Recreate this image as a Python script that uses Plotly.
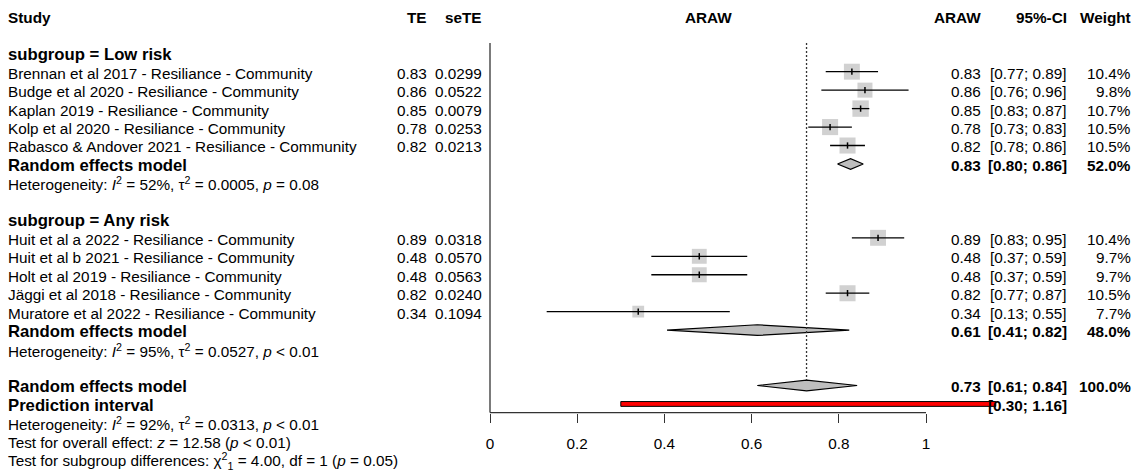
import plotly.graph_objects as go

# ---------------- data ----------------
low_labels = ["Brennan et al 2017 - Resiliance - Community",
              "Budge et al 2020 - Resiliance - Community",
              "Kaplan 2019 - Resiliance - Community",
              "Kolp et al 2020 - Resiliance - Community",
              "Rabasco & Andover 2021 - Resiliance - Community"]
low_te = [0.83, 0.86, 0.85, 0.78, 0.82]
low_sete = [0.0299, 0.0522, 0.0079, 0.0253, 0.0213]
low_lo = [0.77, 0.76, 0.83, 0.73, 0.78]
low_hi = [0.89, 0.96, 0.87, 0.83, 0.86]
low_w = [10.4, 9.8, 10.7, 10.5, 10.5]

any_labels = ["Huit et al a 2022 - Resiliance - Community",
              "Huit et al b 2021 - Resiliance - Community",
              "Holt et al 2019 - Resiliance - Community",
              "Jäggi et al 2018 - Resiliance - Community",
              "Muratore et al 2022 - Resiliance - Community"]
any_te = [0.89, 0.48, 0.48, 0.82, 0.34]
any_sete = [0.0318, 0.0570, 0.0563, 0.0240, 0.1094]
any_lo = [0.83, 0.37, 0.37, 0.77, 0.13]
any_hi = [0.95, 0.59, 0.59, 0.87, 0.55]
any_w = [10.4, 9.7, 9.7, 10.5, 7.7]

sub_names = ["Low risk", "Any risk"]
sub_te = [0.827, 0.613]
sub_lo = [0.797, 0.406]
sub_hi = [0.856, 0.824]
sub_w = [52.0, 48.0]
sub_i2 = [52, 95]
sub_tau2 = ["0.0005", "0.0527"]
sub_p = ["= 0.08", "< 0.01"]

overall_te = 0.726
overall_lo = 0.613
overall_hi = 0.842
pi_lo = 0.30
pi_hi = 1.16
overall_i2 = 92
overall_tau2 = "0.0313"
overall_p = "< 0.01"
overall_z = "12.58"
overall_zp = "< 0.01"
sub_chi2 = "4.00"
sub_df = 1
sub_chi_p = "= 0.05"

tick_vals = [0, 0.2, 0.4, 0.6, 0.8, 1]
tick_text = ["0", "0.2", "0.4", "0.6", "0.8", "1"]

# ---------------- layout geometry ----------------
W, H = 1137, 473
X0PX, X1PX = 490.0, 926.0          # pixel of value 0 and value 1
PXU = X1PX - X0PX
AXIS_PX = 412.7                    # pixel row of the x axis line
ROW0_PX = 16.3                     # pixel of row 0
DY = 18.46                         # pixels per row
FONT = "Liberation Sans, Arial, sans-serif"
FS = 15.3
FSH = 15.3
FSB = 16.7
GRAY = "#BEBEBE"


def ypap(r):
    return 1 - (ROW0_PX + r * DY) / H


def xpap(px):
    return px / W


fig = go.Figure()

# rows
low_rows = [3, 4, 5, 6, 7]
any_rows = [12, 13, 14, 15, 16]
sub_rows = [8, 17]
sub_label_rows = [2, 11]
het_rows = [9, 18]
ROW_OVERALL, ROW_PI = 20, 21

all_te = low_te + any_te
all_lo = low_lo + any_lo
all_hi = low_hi + any_hi
all_w = low_w + any_w
all_rows = low_rows + any_rows

sq_sizes = [1.53 * w for w in all_w]

# squares
fig.add_trace(go.Scatter(x=all_te, y=all_rows, mode="markers",
                         marker=dict(symbol="square", size=sq_sizes, color=GRAY,
                                     line=dict(width=0)),
                         hoverinfo="skip"))

# CI lines and estimate ticks
TICK_H = 0.17
for col in ["black", "white"]:
    xs, ys, tx, ty = [], [], [], []
    for te, lo, hi, r, s in zip(all_te, all_lo, all_hi, all_rows, sq_sizes):
        inside = (hi - lo) * PXU < s
        c = "white" if inside else "black"
        if c != col:
            continue
        xs += [lo, hi, None]
        ys += [r, r, None]
        tx += [te, te, None]
        ty += [r - TICK_H, r + TICK_H, None]
    if xs:
        fig.add_trace(go.Scatter(x=xs, y=ys, mode="lines",
                                 line=dict(color=col, width=1.3), hoverinfo="skip"))
        fig.add_trace(go.Scatter(x=tx, y=ty, mode="lines",
                                 line=dict(color=col, width=1.5), hoverinfo="skip"))

# diamonds
DH = 0.29
dx, dy = [], []
for te, lo, hi, r in zip(sub_te + [overall_te], sub_lo + [overall_lo],
                         sub_hi + [overall_hi], sub_rows + [ROW_OVERALL]):
    dx += [lo, te, hi, te, lo, None]
    dy += [r, r - DH, r, r + DH, r, None]
fig.add_trace(go.Scatter(x=dx, y=dy, mode="lines", fill="toself", fillcolor=GRAY,
                         line=dict(color="black", width=1.2), hoverinfo="skip"))

# prediction interval bar
PH = 0.13
fig.add_trace(go.Scatter(x=[pi_lo, pi_hi, pi_hi, pi_lo, pi_lo],
                         y=[ROW_PI - PH, ROW_PI - PH, ROW_PI + PH, ROW_PI + PH, ROW_PI - PH],
                         mode="lines", fill="toself", fillcolor="red",
                         line=dict(color="black", width=1), hoverinfo="skip"))

y_axis_row = (AXIS_PX - ROW0_PX) / DY
y_top_row = -ROW0_PX / DY
LINE_TOP = 1.45

# reference (overall) dotted line
fig.add_trace(go.Scatter(x=[overall_te, overall_te], y=[LINE_TOP, ROW_OVERALL - DH],
                         mode="lines", line=dict(color="#333", width=1.3, dash="2px,2px"),
                         hoverinfo="skip"))
# left vertical line at 0
fig.add_trace(go.Scatter(x=[0, 0], y=[LINE_TOP, y_axis_row], mode="lines",
                         line=dict(color="#333", width=1.3), hoverinfo="skip"))

ydom0 = (H - AXIS_PX) / H
fig.add_shape(type="line", xref="x", yref="paper", x0=0, x1=1, y0=ydom0, y1=ydom0,
              line=dict(color="#333", width=1.3))

# ---------------- text ----------------
TOFF = 0.08


def txt(px, row, s, anchor="left", bold=False, size=FS):
    if bold:
        s = "<b>" + s + "</b>"
    fig.add_annotation(x=xpap(px), y=ypap(row + TOFF), xref="paper", yref="paper",
                       text=s, showarrow=False, xanchor=anchor, yanchor="middle",
                       font=dict(family=FONT, size=size, color="black"))


LX, TEX, SEX, ESX, CIX, WX = 6, 429, 484, 983, 1069, 1133

# header
txt(LX, 0, "Study", "left", True, FSH)
txt(TEX, 0, "TE", "right", True, FSH)
txt(SEX, 0, "seTE", "right", True, FSH)
txt((X0PX + X1PX) / 2, 0, "ARAW", "center", True, FSH)
txt(ESX, 0, "ARAW", "right", True, FSH)
txt(CIX, 0, "95%-CI", "right", True, FSH)
txt(WX, 0, "Weight", "right", True, FSH)


def fmt_ci(lo, hi):
    return "[%.2f; %.2f]" % (lo, hi)


groups = [(low_labels, low_te, low_sete, low_lo, low_hi, low_w, low_rows),
          (any_labels, any_te, any_sete, any_lo, any_hi, any_w, any_rows)]
for g, (labs, tes, ses, los, his, ws, rows) in enumerate(groups):
    txt(LX, sub_label_rows[g], "subgroup = " + sub_names[g], bold=True, size=FSB)
    for lab, te, se, lo, hi, w, r in zip(labs, tes, ses, los, his, ws, rows):
        txt(LX, r, lab)
        txt(TEX, r, "%.2f" % te, "right")
        txt(SEX, r, "%.4f" % se, "right")
        txt(ESX, r, "%.2f" % te, "right")
        txt(CIX, r, fmt_ci(lo, hi), "right")
        txt(WX, r, "%.1f%%" % w, "right")
    r = sub_rows[g]
    txt(LX, r, "Random effects model", bold=True, size=FSB)
    txt(ESX, r, "%.2f" % sub_te[g], "right", True)
    txt(CIX, r, fmt_ci(sub_lo[g], sub_hi[g]), "right", True)
    txt(WX, r, "%.1f%%" % sub_w[g], "right", True)
    txt(LX, het_rows[g], "Heterogeneity: <i>I</i><sup>2</sup> = %d%%, τ<sup>2</sup> = %s, <i>p</i> %s"
        % (sub_i2[g], sub_tau2[g], sub_p[g]))

txt(LX, ROW_OVERALL, "Random effects model", bold=True, size=FSB)
txt(ESX, ROW_OVERALL, "%.2f" % overall_te, "right", True)
txt(CIX, ROW_OVERALL, fmt_ci(overall_lo, overall_hi), "right", True)
txt(WX, ROW_OVERALL, "%.1f%%" % 100.0, "right", True)
txt(LX, ROW_PI, "Prediction interval", bold=True, size=FSB)
txt(CIX, ROW_PI, fmt_ci(pi_lo, pi_hi), "right", True)
txt(LX, 22, "Heterogeneity: <i>I</i><sup>2</sup> = %d%%, τ<sup>2</sup> = %s, <i>p</i> %s"
    % (overall_i2, overall_tau2, overall_p))
txt(LX, 23, "Test for overall effect: <i>z</i> = %s (<i>p</i> %s)" % (overall_z, overall_zp))
txt(LX, 24, "Test for subgroup differences: χ<sup>2</sup><sub>%d</sub> = %s, df = %d (<i>p</i> %s)"
    % (sub_df, sub_chi2, sub_df, sub_chi_p))

fig.update_layout(
    width=W, height=H, margin=dict(l=0, r=0, t=0, b=0),
    paper_bgcolor="white", plot_bgcolor="white", showlegend=False,
    font=dict(family=FONT, size=FS, color="black"),
    xaxis=dict(domain=[0, 1], range=[-X0PX / PXU, (W - X0PX) / PXU],
               tickvals=tick_vals, ticktext=tick_text, ticks="outside", ticklen=9,
               tickwidth=1.3, tickcolor="#333", showgrid=False, zeroline=False,
               showline=False, tickfont=dict(family=FONT, size=FS, color="black"),
               ticklabelstandoff=8, fixedrange=True),
    yaxis=dict(domain=[ydom0, 1], range=[y_axis_row, y_top_row], visible=False,
               fixedrange=True),
)

fig.write_html("out.html", config={"displayModeBar": False},
               post_script="document.body.style.margin='0px';document.body.style.padding='0px';document.body.style.overflow='hidden';")
